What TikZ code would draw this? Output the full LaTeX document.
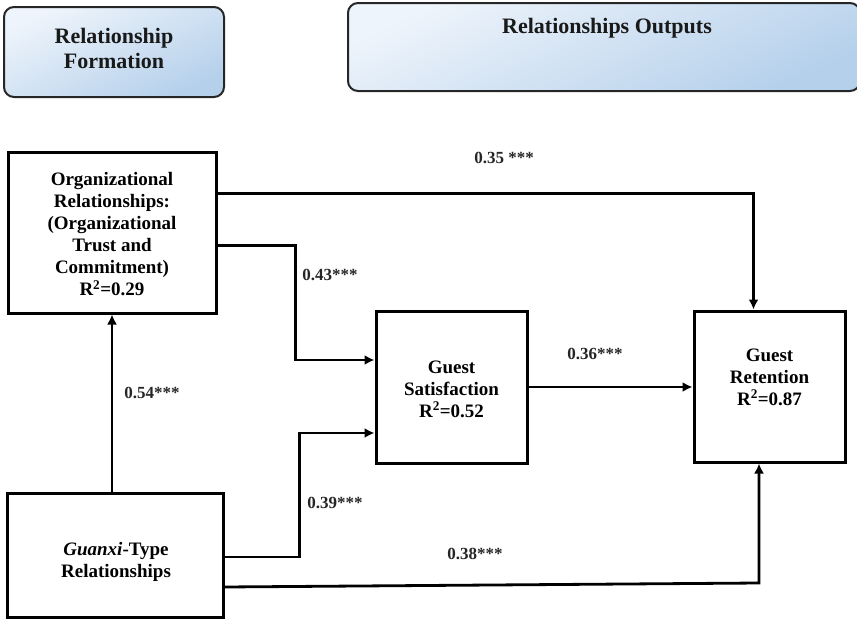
\documentclass[tikz,border=0pt]{standalone}
\usepackage{fontspec}
\setmainfont{Liberation Serif}
\usetikzlibrary{calc,arrows.meta}
\definecolor{HeadTop}{HTML}{EEF4FB}
\definecolor{HeadBottom}{HTML}{B5D0EB}
\tikzset{%
	% Style of the construct box
	Block/.style={rectangle,draw=black,line width=3pt,inner sep=0},
	% Style of the construct text
	BlockName/.style={font=\bfseries\fontsize{19}{22}\selectfont,align=center,black},
	% Style of the header box
	Header/.style={rectangle,rounded corners=10pt,draw=black!85,line width=2pt,
		top color=HeadTop,bottom color=HeadBottom,shading angle=25},
	% Style of the header text
	HeaderName/.style={font=\bfseries\fontsize{22}{25}\selectfont,align=center,black!90},
	% Style of the path coefficient
	Coef/.style={font=\bfseries\fontsize{17}{20}\selectfont,black!85},
	% Style of the path
	Connection/.style={line width=2.8pt,-{Latex[length=10pt,width=10pt]},line join=miter},
}
\begin{document}
\begin{tikzpicture}[x=1pt,y=-1pt]
\useasboundingbox (0,0) rectangle (857,621);
\clip (0,0) rectangle (857,621);

%~~~~~~~~~~~~~~~~~~~~~~~~~~~~~~~~~~~~~~~~~~~~~~~~~~
% Set Headers
%~~~~~~~~~~~~~~~~~~~~~~~~~~~~~~~~~~~~~~~~~~~~~~~~~~
\node[Header,minimum width=220,minimum height=90] (HForm) at (114, 52) {};
\node[HeaderName] at ($ (HForm) + (0, -4) $) {Relationship\\Formation};

\node[Header,minimum width=512,minimum height=88] (HOut) at (604, 47) {};
\node[HeaderName] at ($ (HOut) + (3, -19) $) {Relationships Outputs};

%~~~~~~~~~~~~~~~~~~~~~~~~~~~~~~~~~~~~~~~~~~~~~~~~~~
% Set Nodes
%~~~~~~~~~~~~~~~~~~~~~~~~~~~~~~~~~~~~~~~~~~~~~~~~~~
\node[Block,minimum width=208,minimum height=161] (OrgRel) at (112, 232.5) {};
\node[BlockName] at ($ (OrgRel) + (0, 1.5) $) {Organizational\\Relationships:\\(Organizational\\Trust and\\Commitment)\\R\textsuperscript{2}=0.29};

\node[Block,minimum width=216,minimum height=124] (Guanxi) at (115, 555) {};
\node[BlockName] at ($ (Guanxi) + (1, 7) $) {\textit{Guanxi}-Type\\Relationships};

\node[Block,minimum width=151,minimum height=152] (GuestSat) at (451.5, 387) {};
\node[BlockName] at ($ (GuestSat) + (0, 2) $) {Guest\\Satisfaction\\R\textsuperscript{2}=0.52};

\node[Block,minimum width=151,minimum height=151] (GuestRet) at (769.5, 386.5) {};
\node[BlockName] at ($ (GuestRet) + (0, -9.5) $) {Guest\\Retention\\R\textsuperscript{2}=0.87};

%~~~~~~~~~~~~~~~~~~~~~~~~~~~~~~~~~~~~~~~~~~~~~~~~~~
% Set Branches
%~~~~~~~~~~~~~~~~~~~~~~~~~~~~~~~~~~~~~~~~~~~~~~~~~~
%Branch from Node Guanxi to Node OrgRel
\draw [Connection] (OrgRel.south |- Guanxi.north) -- (OrgRel.south);
\node[Coef] at (152, 393) {0.54***};

%Branch from Node OrgRel to Node GuestRet
\draw [Connection] ($ (OrgRel.north east) + (0, 43) $) -| ($ (GuestRet.north) + (-16, 0) $);
\node[Coef] at (504, 158) {0.35 ***};

%Branch from Node OrgRel to Node GuestSat
\draw [Connection] ($ (OrgRel.north east) + (0, 95) $) -| ($ (GuestSat.west) + (-79, -27) $) -- ($ (GuestSat.west) + (0, -27) $);
\node[Coef] at (330, 275) {0.43***};

%Branch from Node Guanxi to Node GuestSat
\draw [Connection] ($ (Guanxi.east) + (0, 2) $) -| ($ (GuestSat.west) + (-75, 46) $) -- ($ (GuestSat.west) + (0, 46) $);
\node[Coef] at (335, 503) {0.39***};

%Branch from Node GuestSat to Node GuestRet
\draw [Connection] (GuestSat.east) -- (GuestRet.west |- GuestSat.east);
\node[Coef] at (595, 354) {0.36***};

%Branch from Node Guanxi to Node GuestRet
\draw [Connection] ($ (Guanxi.east) + (0, 32) $) -- ($ (GuestRet.south) + (-10.5, 119.5) $) -- ($ (GuestRet.south) + (-10.5, 0) $);
\node[Coef] at (475, 554) {0.38***};

\end{tikzpicture}
\end{document}
